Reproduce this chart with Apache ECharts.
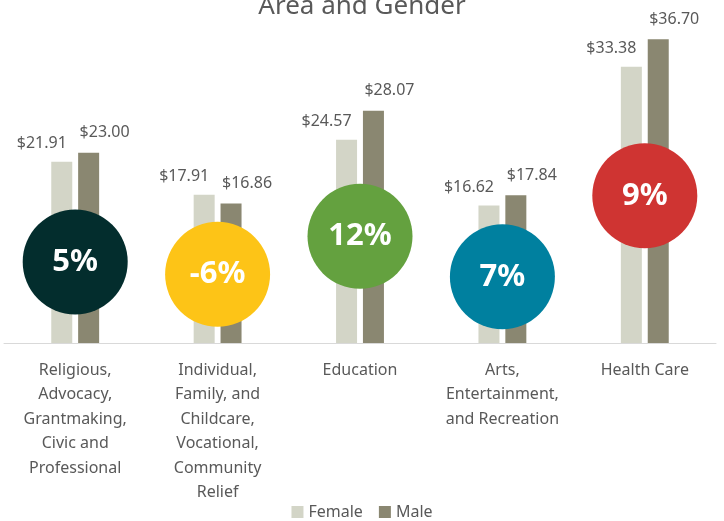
<!DOCTYPE html>
<html>
<head>
    <meta charset="utf-8">
    <script src="https://cdn.jsdelivr.net/npm/echarts@6/dist/echarts.min.js"></script>
    <style>
        html, body { margin: 0; padding: 0; background: #fff; }
    </style>
</head>
<body>
    <div id="main" style="width: 724px;height:521px;"></div>
    <script type="text/javascript">
        // data
        var categories = [
            'Religious,\nAdvocacy,\nGrantmaking,\nCivic and\nProfessional',
            'Individual,\nFamily, and\nChildcare,\nVocational,\nCommunity\nRelief',
            'Education',
            'Arts,\nEntertainment,\nand Recreation',
            'Health Care'
        ];
        var female = [21.91, 17.91, 24.57, 16.62, 33.38];
        var male = [23.00, 16.86, 28.07, 17.84, 36.70];
        var gapPct = ['5%', '-6%', '12%', '7%', '9%'];
        // height (in $ units) where each circle sits
        var circleLevel = [9.8, 8.3, 12.9, 8.0, 17.8];
        var circleColors = ['#032d2d', '#fdc417', '#64a13f', '#00809f', '#cf3432'];

        var font = 'Noto Sans';
        var txt = '#595959';

        var myChart = echarts.init(document.getElementById('main'));

        var option = {
            animation: false,
            title: {
                text: 'Area and Gender',
                left: 'center',
                top: -11,
                textStyle: { fontFamily: font, fontSize: 26, fontWeight: 'normal', color: txt }
            },
            legend: {
                data: ['Female', 'Male'],
                bottom: -4,
                left: 'center',
                itemWidth: 12,
                itemHeight: 12,
                itemGap: 16,
                icon: 'rect',
                textStyle: { fontFamily: font, fontSize: 16, color: txt }
            },
            grid: { left: 4, right: 8, top: 12, bottom: 178 },
            xAxis: {
                type: 'category',
                data: categories,
                axisLine: { lineStyle: { color: '#d9d9d9', width: 1 } },
                axisTick: { show: false },
                axisLabel: {
                    fontFamily: font, fontSize: 16, color: txt,
                    lineHeight: 24.5, margin: 15, interval: 0
                }
            },
            yAxis: {
                type: 'value', min: 0, max: 40,
                show: false, splitLine: { show: false }
            },
            series: [{
                name: 'Female',
                type: 'bar',
                data: female,
                barWidth: 21,
                barGap: '28%',
                itemStyle: { color: '#d3d5c7' },
                label: {
                    show: true, position: 'top', distance: 10, offset: [-20, 0],
                    fontFamily: font, fontSize: 16, color: txt,
                    formatter: function (p) { return '$' + p.value.toFixed(2); }
                }
            }, {
                name: 'Male',
                type: 'bar',
                data: male,
                barWidth: 21,
                itemStyle: { color: '#8a8771' },
                label: {
                    show: true, position: 'top', distance: 12, offset: [16, 0],
                    fontFamily: font, fontSize: 16, color: txt,
                    formatter: function (p) { return '$' + p.value.toFixed(2); }
                }
            }, {
                name: 'gap',
                type: 'scatter',
                z: 5,
                symbolSize: 105,
                data: circleLevel.map(function (v, i) {
                    return { value: [i, v], itemStyle: { color: circleColors[i], opacity: 1 } };
                }),
                label: {
                    show: true, position: 'inside',
                    fontFamily: font, fontSize: 31, fontWeight: 'bold', color: '#fff',
                    formatter: function (p) { return gapPct[p.dataIndex]; }
                }
            }]
        };
        myChart.setOption(option);
    </script>
</body>
</html>
